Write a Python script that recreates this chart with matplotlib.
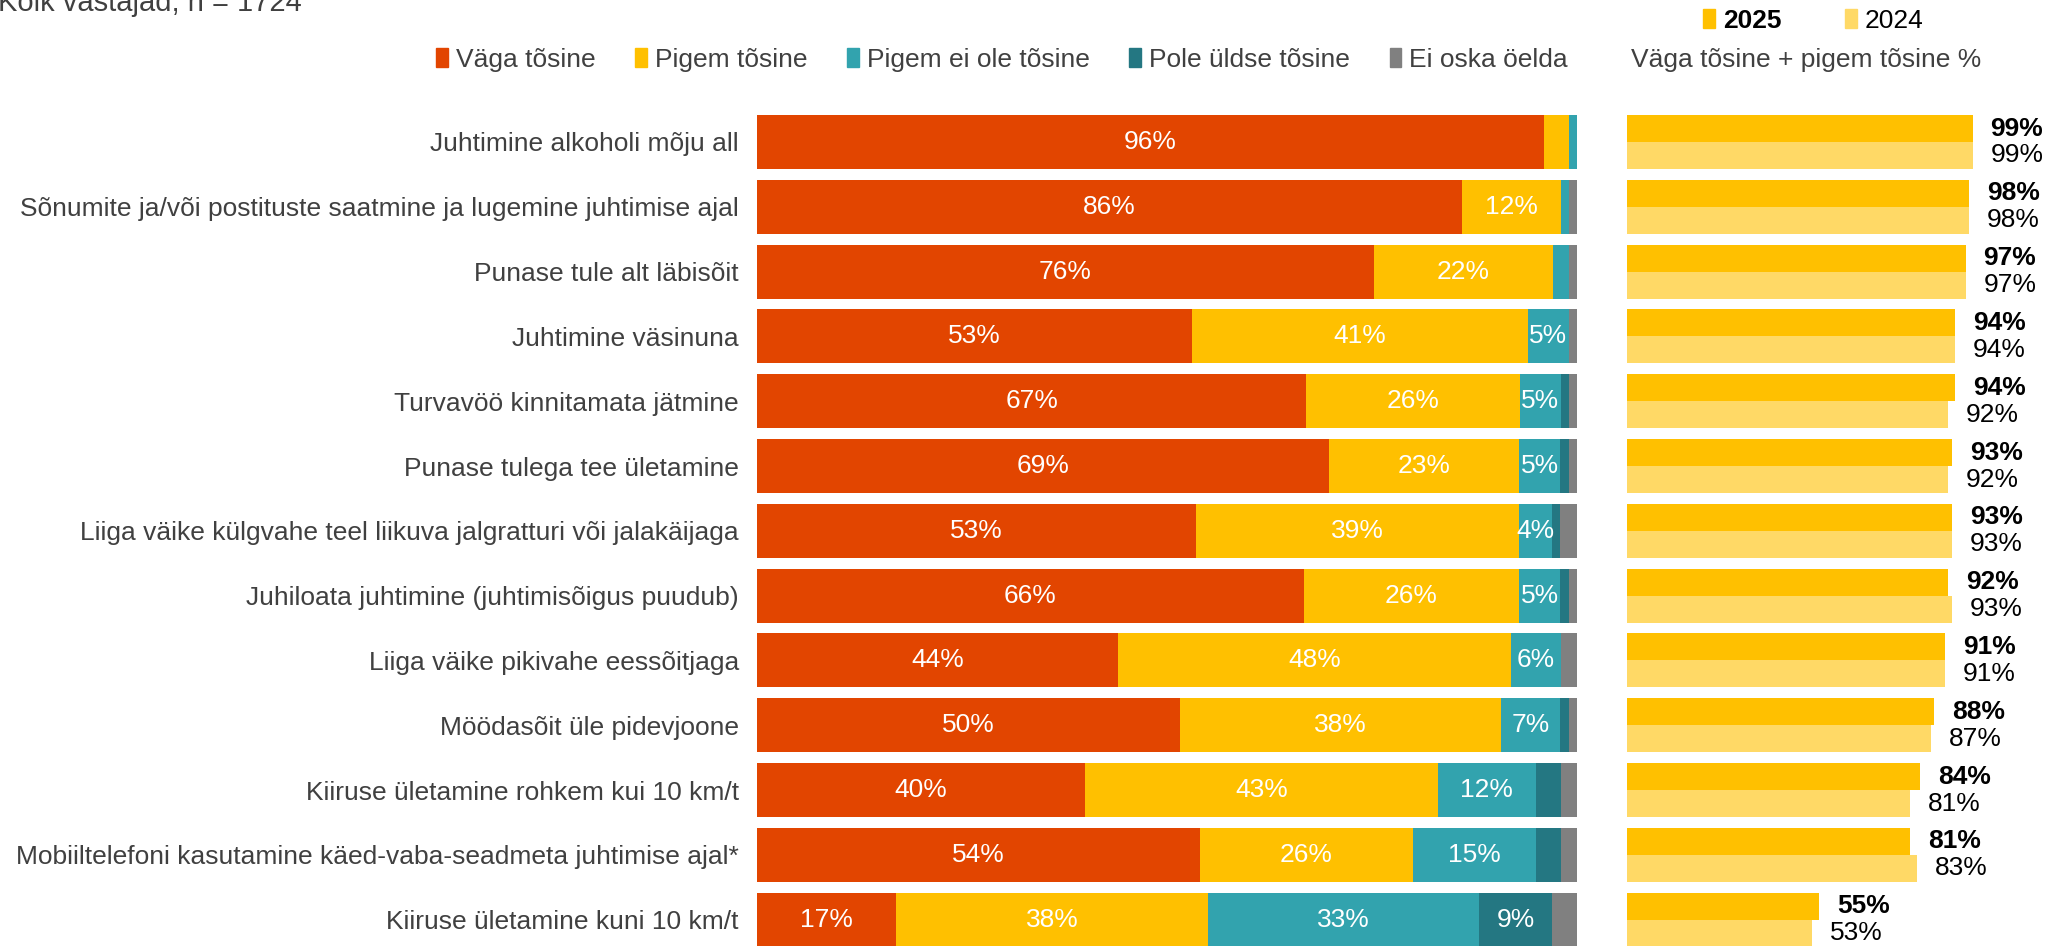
import matplotlib.pyplot as plt
import numpy as np
from matplotlib.patches import Patch

categories = [
    "Juhtimine alkoholi mõju all",
    "Sõnumite ja/või postituste saatmine ja lugemine juhtimise ajal",
    "Punase tule alt läbisõit",
    "Juhtimine väsinuna",
    "Turvavöö kinnitamata jätmine",
    "Punase tulega tee ületamine",
    "Liiga väike külgvahe teel liikuva jalgratturi või jalakäijaga",
    "Juhiloata juhtimine (juhtimisõigus puudub)",
    "Liiga väike pikivahe eessõitjaga",
    "Möödasõit üle pidevjoone",
    "Kiiruse ületamine rohkem kui 10 km/t",
    "Mobiiltelefoni kasutamine käed-vaba-seadmeta juhtimise ajal*",
    "Kiiruse ületamine kuni 10 km/t",
]

# vastuste jaotus (%)
vaga_tosine = [96, 86, 76, 53, 67, 69, 53, 66, 44, 50, 40, 54, 17]
pigem_tosine = [3, 12, 22, 41, 26, 23, 39, 26, 48, 38, 43, 26, 38]
pigem_ei_ole = [1, 1, 2, 5, 5, 5, 4, 5, 6, 7, 12, 15, 33]
pole_uldse = [0, 0, 0, 0, 1, 1, 1, 1, 0, 1, 3, 3, 9]
ei_oska = [0, 1, 1, 1, 1, 1, 2, 1, 2, 1, 2, 2, 3]

# väga + pigem tõsine
kokku_2025 = [99, 98, 97, 94, 94, 93, 93, 92, 91, 88, 84, 81, 55]
kokku_2024 = [99, 98, 97, 94, 92, 92, 93, 93, 91, 87, 81, 83, 53]

nimed = ["Väga tõsine", "Pigem tõsine", "Pigem ei ole tõsine", "Pole üldse tõsine", "Ei oska öelda"]
varvid = ["#E24500", "#FFC000", "#32A3AE", "#247782", "#808080"]

plt.rcParams['font.family'] = ['Liberation Sans', 'DejaVu Sans']
plt.rcParams['font.size'] = 19

W, H = 2046, 946
fig = plt.figure(figsize=(W / 100, H / 100), dpi=100)


def box(x0, y_top, w, h):
    return [x0 / W, 1 - (y_top + h) / H, w / W, h / H]


n = len(categories)
samm = 64.8
ylemine = 142 - samm / 2
ax = fig.add_axes(box(757, ylemine, 820, samm * n))
ax2 = fig.add_axes(box(1627, ylemine, 349, samm * n))

y = np.arange(n)
bar_h = 54 / samm

# 100% tulpdiagramm: iga rida normeeritakse
read = np.array([vaga_tosine, pigem_tosine, pigem_ei_ole, pole_uldse, ei_oska], float)
osad = read / read.sum(axis=0) * 100
vasak = np.zeros(n)
for vals, osa, col, nimi in zip(read, osad, varvid, nimed):
    ax.barh(y, osa, left=vasak, height=bar_h, color=col, label=nimi)
    for yi, l, s, v in zip(y, vasak, osa, vals):
        if v >= 4:
            ax.text(l + s / 2, yi, f"{v:.0f}%", ha='center', va='center', color='white')
    vasak += osa

ax.set_xlim(0, 100)
ax.set_ylim(n - 0.5, -0.5)
ax.set_yticks(y, categories)
ax.set_xticks([])
ax.tick_params(axis='y', length=0, pad=13, labelcolor='#404040')
for s in ax.spines.values():
    s.set_visible(False)

hh = bar_h / 2
ax2.barh(y - hh / 2, kokku_2025, height=hh, color='#FFC000')
ax2.barh(y + hh / 2, kokku_2024, height=hh, color='#FFD966')
for yi, a, b in zip(y, kokku_2025, kokku_2024):
    ax2.annotate(f"{a}%", (a, yi - hh / 2), xytext=(13, 0), textcoords='offset points',
                 ha='left', va='center', fontweight='bold', color='black')
    ax2.annotate(f"{b}%", (b, yi + hh / 2), xytext=(13, 0), textcoords='offset points',
                 ha='left', va='center', color='black')
ax2.set_xlim(0, 100)
ax2.set_ylim(n - 0.5, -0.5)
ax2.axis('off')

fig.text(-2 / W, 1 - 11 / H, "Kõik vastajad, n = 1724", ha='left', va='baseline',
         color='#404040', fontsize=21)

handles = [Patch(color=c) for c in varvid]
fig.legend(handles, nimed, loc='center right', bbox_to_anchor=(1568 / W, 1 - 60 / H), ncol=5,
           frameon=False, handlelength=0.45, handleheight=0.75, handletextpad=0.3,
           columnspacing=1.5, borderaxespad=0, borderpad=0, labelcolor='#404040')
fig.text(1631 / W, 1 - 60 / H, "Väga tõsine + pigem tõsine %", ha='left', va='center', color='#404040')

leg2 = fig.legend([Patch(color='#FFC000'), Patch(color='#FFD966')], ["2025", "2024"],
                  loc='center left', bbox_to_anchor=(1703 / W, 1 - 21 / H), ncol=2,
                  frameon=False, handlelength=0.45, handleheight=0.75, handletextpad=0.3,
                  columnspacing=2.4, borderaxespad=0, borderpad=0)
leg2.get_texts()[0].set_fontweight('bold')

fig.savefig("out.png", dpi=100)
